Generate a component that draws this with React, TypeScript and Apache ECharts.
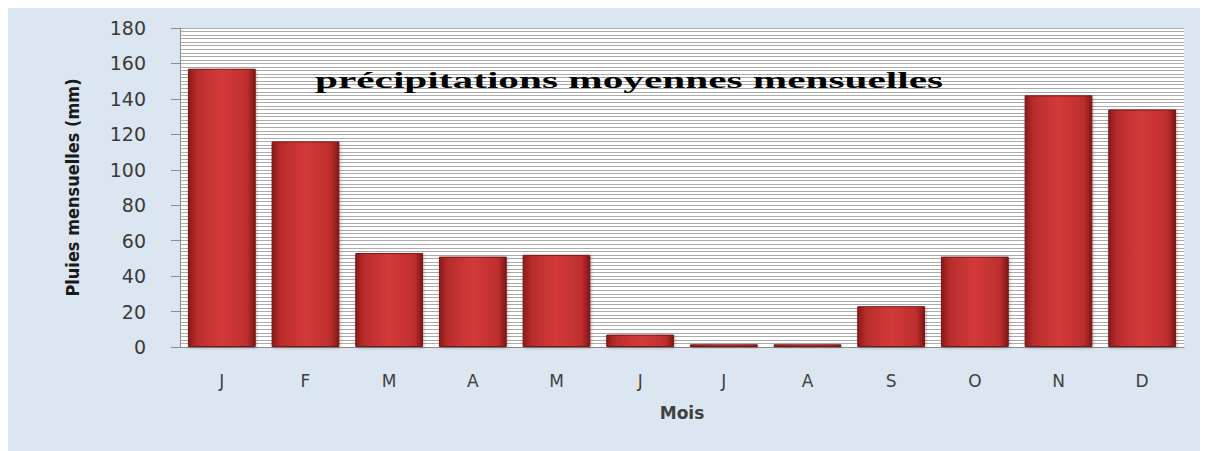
import React, { useEffect, useRef } from "react";
import * as echarts from "echarts";

const months = ["J", "F", "M", "A", "M", "J", "J", "A", "S", "O", "N", "D"];
const rainfall = [157, 116, 53, 51, 52, 7, 1.5, 1.5, 23, 51, 142, 134];
const chartTitle = "précipitations moyennes mensuelles";
const yName = "Pluies mensuelles (mm)";
const xName = "Mois";

export default function App() {
  const ref = useRef<HTMLDivElement>(null);
  useEffect(() => {
    if (!ref.current) return;
    const chart = echarts.init(ref.current, null, { renderer: "svg" });
    const barColor = new echarts.graphic.LinearGradient(0, 0, 1, 0, [
      { offset: 0, color: "#8a1a1a" },
      { offset: 0.12, color: "#b82c2c" },
      { offset: 0.5, color: "#d43a3a" },
      { offset: 0.88, color: "#bd2e2e" },
      { offset: 1, color: "#7f1616" },
    ]);
    chart.setOption({
      animation: false,
      backgroundColor: "#dce6f1",
      grid: {
        left: 172,
        right: 24,
        top: 20,
        bottom: 104,
        show: true,
        backgroundColor: "#ffffff",
        borderWidth: 0,
      },
      graphic: [
        {
          type: "text",
          left: 307,
          top: 60,
          scaleX: 1.72,
          z: 100,
          style: {
            text: chartTitle,
            font: "bold 24px 'Liberation Serif', serif",
            fill: "#000000",
          },
        },
      ],
      xAxis: {
        type: "category",
        data: months,
        name: xName,
        nameLocation: "middle",
        nameGap: 57,
        nameTextStyle: {
          fontFamily: "'DejaVu Sans', sans-serif",
          fontSize: 17,
          fontWeight: "bold",
          color: "#404040",
        },
        axisLine: { show: true, lineStyle: { color: "#8c8c8c", width: 1 } },
        axisTick: { show: false },
        axisLabel: {
          margin: 25,
          fontFamily: "'DejaVu Sans', sans-serif",
          fontSize: 17,
          color: "#404040",
        },
      },
      yAxis: {
        type: "value",
        min: 0,
        max: 180,
        interval: 20,
        name: yName,
        nameLocation: "middle",
        nameGap: 99,
        nameTextStyle: {
          fontFamily: "'DejaVu Sans Condensed', 'DejaVu Sans', sans-serif",
          fontSize: 18,
          fontWeight: "bold",
          color: "#1a1a1a",
        },
        axisLine: { show: true, lineStyle: { color: "#8c8c8c", width: 1 } },
        axisTick: { show: true, length: 9, lineStyle: { color: "#8c8c8c" } },
        axisLabel: {
          margin: 34,
          fontFamily: "'DejaVu Sans', sans-serif",
          fontSize: 19,
          color: "#3a3a3a",
        },
        splitLine: { show: true, lineStyle: { color: "#ababab", width: 1 } },
        minorTick: { show: false, splitNumber: 10 },
        minorSplitLine: { show: true, lineStyle: { color: "#ababab", width: 1 } },
      },
      series: [
        {
          type: "bar",
          data: rainfall,
          barCategoryGap: "19%",
          itemStyle: {
            color: barColor,
            borderColor: "#7a1414",
            borderWidth: 1,
            shadowColor: "rgba(0,0,0,0.25)",
            shadowBlur: 3,
            shadowOffsetX: 1,
            shadowOffsetY: 1,
          },
        },
      ],
    });
    return () => chart.dispose();
  }, []);
  return <div ref={ref} style={{ width: 1200, height: 443 }} />;
}
